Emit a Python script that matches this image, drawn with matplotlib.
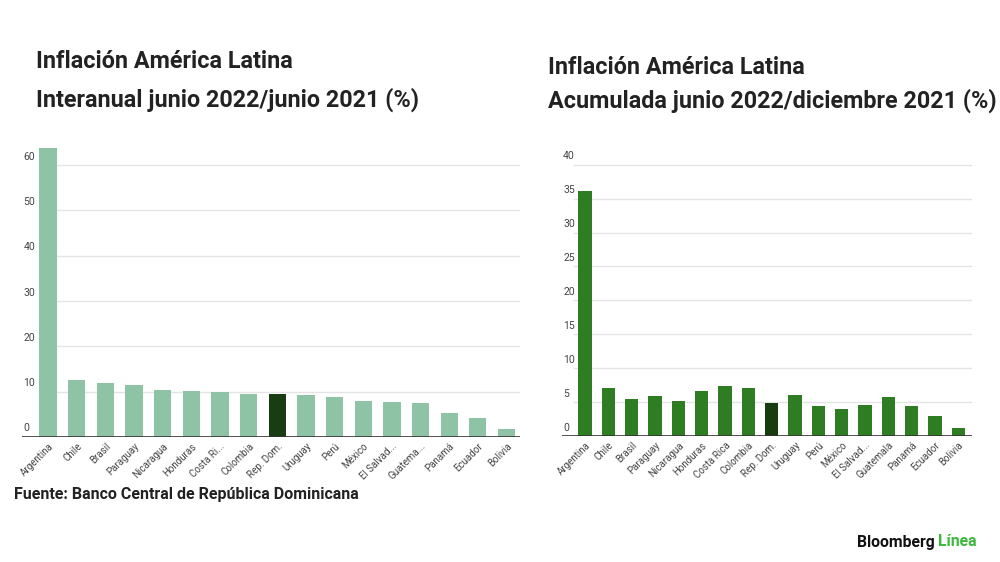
import matplotlib
matplotlib.use("Agg")
import matplotlib.pyplot as plt

# data
countries_yoy = ["Argentina", "Chile", "Brasil", "Paraguay", "Nicaragua", "Honduras",
                 "Costa Ri...", "Colombia", "Rep. Dom.", "Uruguay", "Perú", "México",
                 "El Salvad...", "Guatema...", "Panamá", "Ecuador", "Bolivia"]
values_yoy = [63.9, 12.5, 11.9, 11.4, 10.3, 10.2, 9.9, 9.6, 9.4, 9.2, 8.8, 8.0,
              7.8, 7.5, 5.2, 4.3, 1.8]

countries_ytd = ["Argentina", "Chile", "Brasil", "Paraguay", "Nicaragua", "Honduras",
                 "Costa Rica", "Colombia", "Rep. Dom.", "Uruguay", "Perú", "México",
                 "El Salvad...", "Guatemala", "Panamá", "Ecuador", "Bolivia"]
values_ytd = [36.1, 7.1, 5.5, 5.9, 5.2, 6.6, 7.4, 7.1, 4.9, 6.0, 4.4, 4.0,
              4.5, 5.7, 4.4, 2.9, 1.2]

yticks_yoy = [0, 10, 20, 30, 40, 50, 60]
yticks_ytd = [0, 5, 10, 15, 20, 25, 30, 35, 40]
highlight = "Rep. Dom."

plt.rcParams["font.family"] = ["Roboto", "DejaVu Sans"]

W, H = 1000, 562
fig = plt.figure(figsize=(10, 5.62), dpi=100)


def axes_px(left, right, bottom, top):
    return fig.add_axes([left / W, 1 - bottom / H, (right - left) / W, (bottom - top) / H])


def draw_panel(ax, names, values, ticks, ymax, xmin, xmax, width, color, hcolor, grid_start):
    x = list(range(len(names)))
    colors = [hcolor if n == highlight else color for n in names]
    ax.bar(x, values, width=width, color=colors, zorder=3)
    ax.set_xlim(xmin, xmax)
    ax.set_ylim(0, ymax)
    for t in ticks:
        if t > 0:
            ax.hlines(t, grid_start, xmax, color="#e4e4e4", lw=1, zorder=1)
        ax.text(xmin + 0.05, t + ymax * 0.012, str(t), fontsize=7.5, color="#444444",
                ha="left", va="bottom")
    ax.axhline(0, color="#333333", lw=1.2, zorder=4)
    for s in ax.spines.values():
        s.set_visible(False)
    ax.set_yticks([])
    ax.set_xticks(x)
    ax.set_xticklabels(names, rotation=45, ha="right", rotation_mode="anchor",
                       fontsize=7, color="#444444")
    ax.tick_params(axis="x", length=0, pad=3)


ax1 = axes_px(22, 520, 437, 138)
draw_panel(ax1, countries_yoy, values_yoy, yticks_yoy, 66, -0.91, 16.47, 0.6,
           "#8fc3a6", "#183d12", -0.3)

ax2 = axes_px(562, 972, 436, 158)
draw_panel(ax2, countries_ytd, values_ytd, yticks_ytd, 41, -0.99, 16.59, 0.57,
           "#2f7d22", "#173c10", -0.5)

# titles
title_kw = dict(fontsize=16.8, fontweight="bold", color="#222222", va="center")
fig.text(36 / W, 1 - 62 / H, "Inflación América Latina", **title_kw)
fig.text(36 / W, 1 - 100 / H, "Interanual junio 2022/junio 2021 (%)", **title_kw)
fig.text(548 / W, 1 - 67 / H, "Inflación América Latina", **title_kw)
fig.text(548 / W, 1 - 101 / H, "Acumulada junio 2022/diciembre 2021 (%)", **title_kw)

fig.text(14 / W, 1 - 495 / H, "Fuente: Banco Central de República Dominicana", fontsize=11.5,
         fontweight="bold", color="#222222", va="center")

# logo
t = fig.text(857 / W, 1 - 542 / H, "Bloomberg", fontsize=11.3, fontweight="bold",
             color="#111111", va="center")
fig.canvas.draw()
bb = t.get_window_extent()
fig.text((bb.x1 + 3) / W, 1 - 542 / H, "Línea", fontsize=11.3, fontweight="bold",
         color="#3db83d", va="center")

fig.savefig("out.png", dpi=100)
